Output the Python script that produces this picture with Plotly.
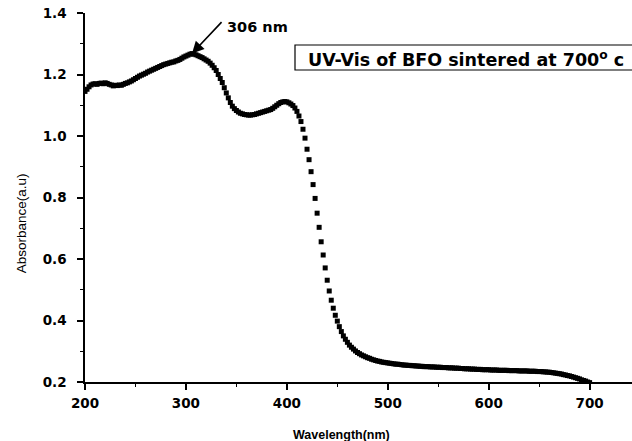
import plotly.graph_objects as go

# Wavelength grid (nm), 2 nm sampling
wavelength = list(range(200, 701, 2))

# Absorbance (a.u.) for BFO sintered at 700 C, one value per wavelength above
absorbance = [
    1.145, 1.152, 1.160, 1.166, 1.169, 1.170, 1.168, 1.171, 1.172, 1.170,  # 200-218
    1.173, 1.171, 1.168, 1.166, 1.163, 1.165, 1.164, 1.166, 1.165, 1.168,  # 220-238
    1.171, 1.173, 1.176, 1.179, 1.183, 1.187, 1.191, 1.195, 1.198, 1.201,  # 240-258
    1.204, 1.208, 1.211, 1.214, 1.217, 1.220, 1.223, 1.226, 1.229, 1.232,  # 260-278
    1.234, 1.236, 1.238, 1.240, 1.241, 1.244, 1.246, 1.249, 1.253, 1.257,  # 280-298
    1.260, 1.263, 1.266, 1.268, 1.266, 1.264, 1.261, 1.258, 1.255, 1.251,  # 300-318
    1.247, 1.243, 1.237, 1.230, 1.222, 1.213, 1.200, 1.187, 1.174, 1.157,  # 320-338
    1.140, 1.124, 1.109, 1.097, 1.089, 1.083, 1.078, 1.074, 1.072, 1.070,  # 340-358
    1.069, 1.068, 1.068, 1.069, 1.070, 1.072, 1.074, 1.076, 1.078, 1.080,  # 360-378
    1.082, 1.084, 1.086, 1.090, 1.095, 1.100, 1.105, 1.109, 1.111, 1.112,  # 380-398
    1.111, 1.108, 1.104, 1.099, 1.091, 1.080, 1.065, 1.047, 1.022, 0.993,  # 400-418
    0.957, 0.923, 0.884, 0.842, 0.797, 0.749, 0.703, 0.656, 0.613, 0.571,  # 420-438
    0.531, 0.496, 0.466, 0.440, 0.417, 0.398, 0.380, 0.364, 0.350, 0.339,  # 440-458
    0.329, 0.320, 0.313, 0.307, 0.301, 0.296, 0.292, 0.288, 0.285, 0.282,  # 460-478
    0.279, 0.277, 0.274, 0.272, 0.270, 0.268, 0.267, 0.265, 0.264, 0.263,  # 480-498
    0.262, 0.261, 0.260, 0.259, 0.258, 0.258, 0.257, 0.256, 0.255, 0.255,  # 500-518
    0.254, 0.254, 0.253, 0.253, 0.252, 0.252, 0.251, 0.251, 0.250, 0.250,  # 520-538
    0.250, 0.249, 0.249, 0.249, 0.248, 0.248, 0.248, 0.247, 0.247, 0.247,  # 540-558
    0.246, 0.246, 0.246, 0.245, 0.245, 0.245, 0.244, 0.244, 0.243, 0.243,  # 560-578
    0.243, 0.242, 0.242, 0.242, 0.241, 0.241, 0.241, 0.240, 0.240, 0.240,  # 580-598
    0.240, 0.239, 0.239, 0.239, 0.239, 0.238, 0.238, 0.238, 0.238, 0.238,  # 600-618
    0.237, 0.237, 0.237, 0.237, 0.237, 0.236, 0.236, 0.236, 0.236, 0.236,  # 620-638
    0.235, 0.235, 0.235, 0.235, 0.234, 0.234, 0.234, 0.233, 0.233, 0.232,  # 640-658
    0.232, 0.231, 0.230, 0.229, 0.228, 0.227, 0.226, 0.224, 0.223, 0.221,  # 660-678
    0.220, 0.218, 0.216, 0.214, 0.212, 0.210, 0.207, 0.205, 0.203, 0.200,  # 680-698
    0.198,                                                                 # 700
]
assert len(absorbance) == len(wavelength)

# Annotated absorption peak
peak_wavelength = 306
peak_label = "306 nm"

x_ticks = [200, 300, 400, 500, 600, 700]
y_ticks = [0.2, 0.4, 0.6, 0.8, 1.0, 1.2, 1.4]

tick_font = dict(family="DejaVu Sans", size=13.5, color="black", weight="bold")

# plot-area geometry in pixels, used to place paper-referenced items
L, T, W, H = 85, 13, 547, 369

fig = go.Figure()
fig.add_trace(go.Scatter(
    x=wavelength, y=absorbance, mode="markers",
    marker=dict(symbol="square", size=5, color="black", line=dict(width=0)),
    showlegend=False, hoverinfo="x+y",
))

peak_abs = absorbance[wavelength.index(peak_wavelength)]

fig.update_layout(
    width=632, height=441,
    margin=dict(l=L, r=632 - L - W, t=T, b=441 - T - H),
    paper_bgcolor="white", plot_bgcolor="white",
    xaxis=dict(
        range=[200, 742], tickvals=x_ticks, ticktext=[str(v) for v in x_ticks],
        showgrid=False, zeroline=False, showline=True, linecolor="black", linewidth=1.5,
        ticks="outside", ticklen=6, tickwidth=1.5, tickcolor="black",
        minor=dict(ticks="outside", ticklen=3, tickwidth=1.3, tickcolor="black", dtick=50, tick0=0),
        tickfont=tick_font, ticklabelstandoff=2,
    ),
    xaxis2=dict(
        range=[200, 742], overlaying="x", side="top", showticklabels=False,
        showgrid=False, zeroline=False, showline=True, linecolor="black", linewidth=1.5,
        ticks="inside", ticklen=3, tickwidth=1, tickcolor="black", dtick=50, tick0=0,
    ),
    yaxis=dict(
        range=[0.2, 1.4], tickvals=y_ticks, ticktext=[f"{v:.1f}" for v in y_ticks],
        showgrid=False, zeroline=False, showline=True, linecolor="black", linewidth=1.5,
        ticks="outside", ticklen=6, tickwidth=1.5, tickcolor="black",
        minor=dict(ticks="outside", ticklen=3, tickwidth=1.3, tickcolor="black", dtick=0.1, tick0=0.1),
        tickfont=tick_font, ticklabelstandoff=8,
    ),
    shapes=[
        # framed caption box, running off the right-hand side of the figure
        dict(type="rect", xref="paper", yref="paper",
             x0=(295 - L) / W, x1=1.3,
             y0=(T + H - 70) / H, y1=(T + H - 45) / H,
             line=dict(color="black", width=1.2), fillcolor="rgba(0,0,0,0)", layer="below"),
    ],
    annotations=[
        dict(x=peak_wavelength, y=peak_abs, xref="x", yref="y", text="",
             showarrow=True, arrowhead=2, arrowsize=1.5, arrowwidth=1.6, arrowcolor="black",
             ax=31, ay=-33, standoff=0),
        dict(x=(225 - L) / W, y=(T + H - 27) / H, xref="paper", yref="paper",
             text=peak_label, showarrow=False, xanchor="left", yanchor="middle",
             font=dict(family="DejaVu Sans", size=14.5, color="black", weight="bold")),
        dict(x=(306 - L) / W, y=(T + H - 59) / H, xref="paper", yref="paper",
             text="UV-Vis of BFO sintered at 700<sup>o</sup> c", showarrow=False,
             xanchor="left", yanchor="middle",
             font=dict(family="DejaVu Sans", size=17.5, color="black", weight="bold")),
        dict(x=(341 - L) / W, y=-53 / H, xref="paper", yref="paper",
             text="Wavelength(nm)", showarrow=False, xanchor="center", yanchor="middle",
             font=dict(family="Liberation Sans", size=12.5, color="black", weight="bold")),
        dict(x=(21.7 - L) / W, y=(T + H - 223.5) / H, xref="paper", yref="paper",
             text="Absorbance(a.u)", textangle=-90, showarrow=False,
             xanchor="center", yanchor="middle",
             font=dict(family="Liberation Sans", size=13.5, color="black")),
    ],
)

fig.write_html("out.html")
